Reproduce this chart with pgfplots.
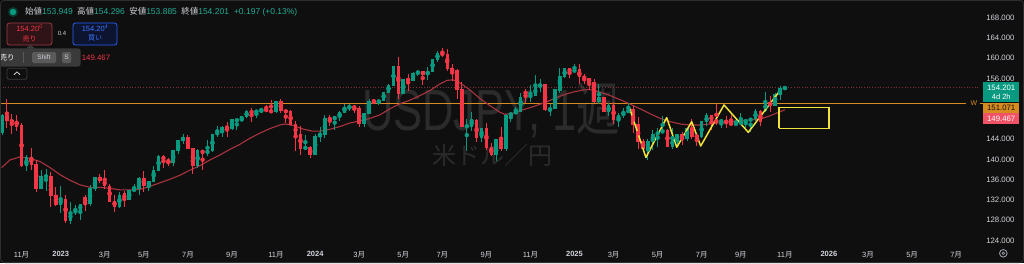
\documentclass[border=0pt]{standalone}
\usepackage{fontspec}
\setmainfont{Liberation Sans}
\newfontfamily\jp{Noto Sans CJK JP}
\usepackage{graphicx}
\usepackage{pgfplots}
\pgfplotsset{compat=1.18}
\usepackage{pgfplotstable}
\definecolor{bg}{HTML}{0F0F0F}
\definecolor{lbl}{HTML}{D1D4DC}
\definecolor{grn}{HTML}{22AB94}
\definecolor{upc}{HTML}{089981}
\definecolor{dnc}{HTML}{F23645}
\definecolor{macol}{HTML}{A8343F}
\definecolor{orng}{HTML}{D88B1F}
\definecolor{yel}{HTML}{F2E33A}
\definecolor{wm}{HTML}{2B2B2B}
\definecolor{dotc}{HTML}{7E3238}
\definecolor{redbd}{HTML}{9E3A44}
\definecolor{redfill}{HTML}{2E1417}
\definecolor{bluebd}{HTML}{2962FF}
\definecolor{bluefill}{HTML}{0D1430}
\definecolor{bluetx}{HTML}{3D74FF}
\definecolor{tipc}{HTML}{3A3A3A}
\definecolor{keyc}{HTML}{5A5A5A}
\definecolor{pinkc}{HTML}{F25266}
\definecolor{brd}{HTML}{2E2E2E}
\definecolor{btnbd}{HTML}{3C3C3C}
\definecolor{gearc}{HTML}{9598A1}
\definecolor{dotfill}{HTML}{0B3A31}
\newcommand{\M}[1]{#1{\jp 月}}

\pgfplotstableread{
w o h l c
-12 145.3 148.9 144.9 148.7
-11 148.7 151.9 146.2 147.7
-10 147.6 148.9 145.1 147.5
-9 147.5 148.8 145.7 146.6
-8 146.6 147.2 138.5 138.8
-7 138.8 140.8 137.7 140.4
-6 140.4 142.2 138.0 139.1
-5 139.1 139.9 133.6 134.3
-4 134.3 137.9 134.1 136.6
-3 136.6 138.2 133.8 136.75
-2 136.7 137.5 130.6 132.9
-1 132.9 134.5 130.8 131.1
0 131.1 134.8 129.5 132.1
1 132.1 132.9 127.5 127.9
2 127.9 131.6 127.2 129.6
3 129.6 131.1 129.0 129.9
4 129.9 131.2 128.1 131.2
5 132.4 132.9 129.8 131.4
6 131.4 134.9 130.9 134.2
7 134.2 136.5 133.8 136.4
8 136.4 137.1 135.3 135.8
9 135.8 137.9 134.1 134.9
10 134.6 135.1 131.6 131.8
11 131.8 133.0 129.6 130.7
12 130.7 133.6 130.4 132.9
13 133.2 133.8 130.6 132.2
14 132.2 134.0 132.0 133.8
15 133.8 135.1 133.6 134.2
16 134.2 136.6 133.0 136.3
17 136.3 137.8 133.5 134.8
18 134.8 135.8 133.7 135.7
19 135.7 138.7 135.6 137.9
20 137.9 140.9 137.7 140.6
21 140.6 140.9 138.4 139.9
22 139.9 140.2 138.7 139.4
23 139.4 141.9 138.8 141.8
24 141.8 143.9 141.0 143.7
25 143.7 145.0 143.1 144.3
26 144.3 144.9 142.0 142.1
27 142.1 142.2 137.2 138.8
28 138.8 142.0 138.3 141.8
29 141.8 141.9 138.0 141.2
30 141.2 143.9 140.7 141.8
31 141.8 145.0 141.5 144.9
32 144.9 146.6 144.5 145.4
33 145.4 146.6 144.5 146.4
34 146.4 147.4 144.4 146.2
35 146.2 147.9 145.9 147.8
36 147.6 147.9 145.9 147.85
37 147.85 148.5 147.3 148.4
38 148.4 149.7 148.2 149.4
39 149.4 150.2 147.3 149.3
40 149.3 149.8 148.2 149.6
41 149.6 150.0 149.2 149.9
42 149.9 150.8 149.5 149.6
43 149.6 151.7 149.2 149.4
44 149.4 151.6 149.2 151.5
45 151.5 151.9 149.2 149.6
46 149.6 149.8 147.1 149.4
47 149.4 149.7 146.7 146.8
48 146.8 147.5 141.6 144.9
49 144.9 146.6 140.9 142.2
50 142.2 144.9 141.9 142.4
51 142.4 142.6 140.3 141.0
52 141.0 145.0 140.8 144.6
53 144.6 146.4 143.4 144.9
54 144.9 148.8 144.3 148.1
55 148.1 148.7 146.6 147.9
56 147.9 148.6 145.9 148.4
57 148.4 149.6 147.6 149.3
58 149.3 150.9 149.1 150.2
59 150.2 150.9 149.6 150.5
60 150.5 150.8 149.2 150.1
61 150.1 150.5 146.5 147.0
62 147.0 149.2 146.5 149.1
63 149.1 151.9 148.9 151.4
64 151.4 152.0 151.0 151.3
65 151.3 151.9 150.8 151.6
66 151.6 153.4 151.5 153.3
67 153.3 154.8 153.2 154.6
68 154.6 158.4 154.5 158.3
69 158.3 160.2 151.9 153.0
70 153.0 155.9 152.9 155.8
71 155.8 156.8 153.6 155.6
72 155.6 157.2 155.5 157.0
73 157.0 157.7 156.5 157.3
74 157.3 157.5 154.6 156.8
75 156.8 158.3 155.7 157.4
76 157.4 159.9 157.2 159.8
77 159.8 161.3 159.3 160.9
78 160.9 161.95 160.2 160.7
79 160.7 161.8 157.4 157.9
80 157.9 158.9 155.4 157.5
81 157.5 157.9 151.9 153.8
82 153.8 155.2 146.4 146.5
83 146.5 147.9 141.7 146.6
84 146.6 149.4 145.7 147.6
85 147.6 148.0 143.4 144.3
86 144.3 146.3 143.4 146.2
87 146.2 147.2 141.8 142.3
88 142.3 143.2 140.7 140.9
89 140.9 144.0 139.6 143.9
90 143.9 146.5 141.7 142.2
91 142.2 148.9 141.6 148.7
92 148.7 149.4 147.3 149.1
93 149.1 150.3 149.0 149.5
94 149.5 153.2 149.4 152.3
95 153.3 153.9 151.2 153.0
96 152.4 154.7 151.3 152.6
97 152.6 156.7 152.5 154.3
98 154.3 155.9 153.3 154.8
99 154.8 154.9 149.5 149.8
100 149.8 151.0 148.6 150.0
101 150.0 153.8 149.9 153.7
102 153.7 158.0 153.1 156.4
103 156.4 158.1 156.0 157.9
104 157.9 158.1 156.0 157.3
105 157.3 158.9 157.2 157.7
106 157.7 158.8 154.8 156.3
107 156.3 156.8 154.8 156.0
108 156.0 156.1 153.7 155.2
109 155.2 155.9 151.2 151.4
110 151.4 154.8 150.9 152.3
111 152.3 152.4 149.3 149.4
112 149.4 151.2 148.6 150.6
113 150.6 151.3 146.9 147.9
114 147.9 149.2 146.5 148.6
115 148.6 150.2 148.2 149.3
116 149.3 151.2 149.2 149.8
117 149.8 150.5 145.2 146.9
118 146.9 148.3 142.1 143.5
119 143.5 144.0 141.6 142.2
120 142.2 144.0 139.9 143.6
121 143.6 145.9 141.9 144.9
122 144.9 146.2 142.4 145.4
123 145.4 148.6 145.0 145.7
124 145.7 146.0 142.4 142.6
125 142.6 146.3 142.1 144.0
126 144.0 145.1 142.4 144.9
127 144.9 145.5 142.8 144.1
128 144.1 146.3 143.7 146.1
129 146.1 148.0 144.0 144.6
130 144.6 145.0 142.7 144.5
131 144.5 147.5 144.2 147.4
132 147.4 149.2 146.6 148.6
133 148.6 148.8 145.9 147.7
134 147.7 150.9 146.7 147.4
135 147.4 148.0 146.2 147.7
136 147.7 148.5 146.2 147.2
137 147.2 148.8 146.6 146.9
138 146.9 147.9 146.7 147.1
139 147.1 149.1 146.8 147.4
140 147.4 148.0 146.3 147.7
141 147.7 148.2 145.5 148.0
142 148.0 150.0 147.5 149.5
143 149.5 149.8 146.6 147.5
144 149.6 153.3 149.4 151.2
145 151.2 152.6 149.4 150.6
146 150.6 153.2 150.5 152.9
147 152.9 154.5 151.7 154.0
148 153.949 154.296 153.885 154.201
}\candles

\begin{document}
\begin{tikzpicture}[x=1pt,y=1pt]
\fill[bg] (0,0) rectangle (1024,263);
% watermark
\node[anchor=base, inner sep=0, text=wm] at (491,133) {\scalebox{0.75}[1]{\fontsize{58}{60}\selectfont USDJPY, 1{\jp 週}}};
\node[anchor=base, inner sep=0, text=wm] at (492,99) {\jp\fontsize{24}{26}\selectfont 米ドル／円};

\begin{axis}[
  at={(0pt,17pt)}, anchor=south west,
  scale only axis, width=978pt, height=246pt,
  xmin=-12.405, xmax=187.47, ymin=122.93, ymax=171.45,
  axis line style={draw=none},
  major tick length=0pt,
  /pgf/number format/assume math mode=true,
  ytick={124,128,132,136,140,144,156,160,164,168},
  yticklabel pos=right,
  yticklabel style={anchor=east, xshift=40pt, font=\fontsize{7.8}{9}\selectfont, text=lbl,
    /pgf/number format/fixed, /pgf/number format/fixed zerofill,
    /pgf/number format/precision=3, /pgf/number format/1000 sep={}},
  xtick={-8,0,9,17,26,35,44,52,61,70,78,87,96,105,113,122,131,139,148,157,165,174,183},
  xticklabels={\M{11},{\bfseries 2023},\M{3},\M{5},\M{7},\M{9},\M{11},{\bfseries 2024},\M{3},\M{5},\M{7},\M{9},\M{11},{\bfseries 2025},\M{3},\M{5},\M{7},\M{9},\M{11},{\bfseries 2026},\M{3},\M{5},\M{7}},
  xticklabel style={font=\fontsize{7.5}{9}\selectfont, text=lbl, yshift=-2pt},
  clip=true,
]
% current price dotted line
\addplot[dotc, dotted, line width=0.7pt, forget plot] coordinates {(-12.405,154.201) (187.47,154.201)};
% orange horizontal line
\addplot[orng, line width=0.9pt, forget plot] coordinates {(-12.405,151.071) (185.0,151.071)};
% moving average
\addplot[macol, line width=1.1pt, forget plot] coordinates {
(-12.06,138.4) (-10.36,139.9) (-8.32,140.5) (-6.27,140.2) (-4.23,139.6) (-2.19,138.4) (-0.14,137.0) (1.90,135.9) (3.94,135.0) (5.99,134.5) (8.03,134.5) (10.08,134.3) (12.12,134.0) (14.16,134.0) (16.21,134.1) (18.25,134.7) (20.30,135.4) (22.34,136.1) (24.38,136.9) (26.43,137.9) (28.47,138.8) (30.52,139.9) (32.56,140.9) (34.60,142.0) (36.65,143.0) (38.69,144.2) (40.73,145.2) (42.78,146.1) (44.82,146.8) (45.85,147.0) (47.48,146.7) (49.52,146.0) (51.36,145.6) (53.0,145.6) (55.04,145.95) (57.08,146.5) (59.13,147.2) (61.17,147.6) (63.21,148.1) (65.26,148.8) (67.30,150.0) (69.35,151.0) (71.39,151.7) (73.43,152.6) (75.48,153.6) (77.52,154.9) (78.95,155.6) (80.18,155.7) (81.61,155.1) (83.65,153.7) (85.70,152.0) (87.74,150.6) (89.78,149.3) (90.81,148.9) (92.44,149.1) (94.49,149.8) (96.53,150.4) (98.58,151.1) (100.62,151.9) (102.66,152.7) (104.7,153.3) (106.75,153.7) (108.18,153.8) (110.2,153.3) (112.3,152.6) (114.3,151.8) (116.4,150.9) (118.4,150.0) (120.5,149.0) (122.5,148.1) (124.6,147.45) (126.6,147.0) (128.6,146.8) (130.7,146.8) (132.7,147.0) (134.7,147.25) (136.8,147.45) (138.8,147.65) (140.8,147.8) (142.9,147.95) (144.9,148.6) (147.0,149.4) (148.0,149.8)};
% wicks up
\addplot[upc, only marks, mark=none, forget plot,
  restrict expr to domain={\thisrow{c}-\thisrow{o}}{0:100},
  error bars/.cd, y dir=both, y explicit, error mark=none,
  error bar style={draw=upc, solid, line width=0.9pt}]
  table[x=w, y expr={(\thisrow{h}+\thisrow{l})/2}, y error expr={(\thisrow{h}-\thisrow{l})/2}] {\candles};
% wicks down
\addplot[dnc, only marks, mark=none, forget plot,
  restrict expr to domain={\thisrow{c}-\thisrow{o}}{-100:-0.0001},
  error bars/.cd, y dir=both, y explicit, error mark=none,
  error bar style={draw=dnc, solid, line width=0.9pt}]
  table[x=w, y expr={(\thisrow{h}+\thisrow{l})/2}, y error expr={(\thisrow{h}-\thisrow{l})/2}] {\candles};
% bodies up
\addplot[upc, only marks, mark=none, forget plot,
  restrict expr to domain={\thisrow{c}-\thisrow{o}}{0:100},
  error bars/.cd, y dir=both, y explicit, error mark=none,
  error bar style={draw=upc, solid, line width=3.5pt}]
  table[x=w, y expr={(\thisrow{o}+\thisrow{c})/2}, y error expr={abs(\thisrow{c}-\thisrow{o})/2+0.1}] {\candles};
% bodies down
\addplot[dnc, only marks, mark=none, forget plot,
  restrict expr to domain={\thisrow{c}-\thisrow{o}}{-100:-0.0001},
  error bars/.cd, y dir=both, y explicit, error mark=none,
  error bar style={draw=dnc, solid, line width=3.5pt}]
  table[x=w, y expr={(\thisrow{o}+\thisrow{c})/2}, y error expr={abs(\thisrow{c}-\thisrow{o})/2+0.1}] {\candles};
% yellow zigzag annotation
\addplot[yel, line width=1.5pt, line join=round, forget plot] coordinates {
(116.2,150.3) (119.6,140.4) (123.85,148.25) (125.9,142.4) (128.96,147.45) (130.8,142.65) (135.56,150.75) (140.53,145.35) (147.0,153.6)};
% yellow rectangle
\addplot[yel, line width=1.4pt, forget plot] coordinates {
(146.8,146.15) (157.0,146.15) (157.0,150.3) (146.8,150.3) (146.8,146.15)};
\end{axis}

% W label on orange line
\node[text=orng, font=\fontsize{7}{8}\selectfont, inner sep=0] at (974,159.7) {W};
\draw[orng, line width=0.9pt] (979.5,159.7) -- (983,159.7);

% right price labels
\fill[upc] (983,161.3) rectangle (1019.3,181.3);
\node[text=white, font=\fontsize{7.8}{9}\selectfont, inner sep=0] at (1001.2,175.3) {154.201};
\node[text=white, font=\fontsize{7.5}{9}\selectfont, inner sep=0] at (1001.2,166.3) {4d 2h};
\fill[orng] (983,149.7) rectangle (1019.3,159.9);
\node[text=bg, font=\fontsize{7.8}{9}\selectfont, inner sep=0] at (1001.2,154.8) {151.071};
\fill[pinkc] (983,138.7) rectangle (1019.3,149.7);
\node[text=white, font=\fontsize{7.8}{9}\selectfont, inner sep=0] at (1001.2,144.2) {149.467};

% gear icon
\draw[gearc, line width=0.9pt] (1003.3,9.7) circle (3.8pt);
\draw[gearc, line width=0.7pt] (1003.3,9.7) circle (1.3pt);

% header
\fill[dotfill] (13,251) circle (5pt);
\fill[upc] (13,251) circle (3.2pt);
\node[anchor=west, inner sep=0, font=\fontsize{8.5}{10}\selectfont] at (25,251) {\textcolor{lbl}{\jp 始値}\textcolor{grn}{153.949}\hspace{4.3pt}\textcolor{lbl}{\jp 高値}\textcolor{grn}{154.296}\hspace{4.3pt}\textcolor{lbl}{\jp 安値}\textcolor{grn}{153.885}\hspace{4.3pt}\textcolor{lbl}{\jp 終値}\textcolor{grn}{154.201}\hspace{5pt}\textcolor{grn}{+0.197 (+0.13\%)}};

% buy / sell buttons
\draw[rounded corners=2.5pt, draw=redbd, fill=redfill, line width=0.8pt] (7,218) rectangle (52,240);
\node[text=dnc, font=\fontsize{7.5}{8}\selectfont, inner sep=0] at (29.5,234.5) {154.20\textsuperscript{0}};
\node[text=dnc, font=\jp\fontsize{7}{8}\selectfont, inner sep=0] at (29.5,224.5) {売り};
\node[text=lbl, font=\fontsize{6}{7}\selectfont, inner sep=0] at (62,229.5) {0.4};
\draw[rounded corners=2.5pt, draw=bluebd, fill=bluefill, line width=0.8pt] (73,218) rectangle (117,240);
\node[text=bluetx, font=\fontsize{7.5}{8}\selectfont, inner sep=0] at (95,234.5) {154.20\textsuperscript{4}};
\node[text=bluetx, font=\jp\fontsize{7}{8}\selectfont, inner sep=0] at (95,224.5) {買い};

% tooltip
\fill[tipc, rounded corners=3pt] (-4,196.3) rectangle (80.7,214.7);
\fill[tipc] (26,214.5) -- (30.5,218.3) -- (35,214.5) -- cycle;
\node[text=white, font=\jp\fontsize{7.5}{8}\selectfont, inner sep=0] at (7,205.5) {売り};
\draw[keyc, line width=0.6pt] (23,200) -- (23,211);
\fill[keyc, rounded corners=1.5pt] (32,200) rectangle (56,211);
\node[text=lbl, font=\fontsize{6.5}{7}\selectfont, inner sep=0] at (44,205.5) {Shift};
\fill[keyc, rounded corners=1.5pt] (62,200) rectangle (71,211);
\node[text=lbl, font=\fontsize{6.5}{7}\selectfont, inner sep=0] at (66.5,205.5) {S};
\node[text=dnc, font=\fontsize{7.8}{9}\selectfont, inner sep=0] at (96,205.5) {149.467};

% collapse button
\draw[btnbd, rounded corners=2pt, line width=0.7pt] (7,183.7) rectangle (27,194.7);
\draw[lbl, line width=0.8pt] (14,188.3) -- (17,191.1) -- (20,188.3);

% frame
\draw[brd, rounded corners=4pt, line width=0.8pt] (0.4,0.4) rectangle (1023.6,262.6);

\pgfresetboundingbox
\useasboundingbox (0,0) rectangle (1024,263);
\end{tikzpicture}
\end{document}
